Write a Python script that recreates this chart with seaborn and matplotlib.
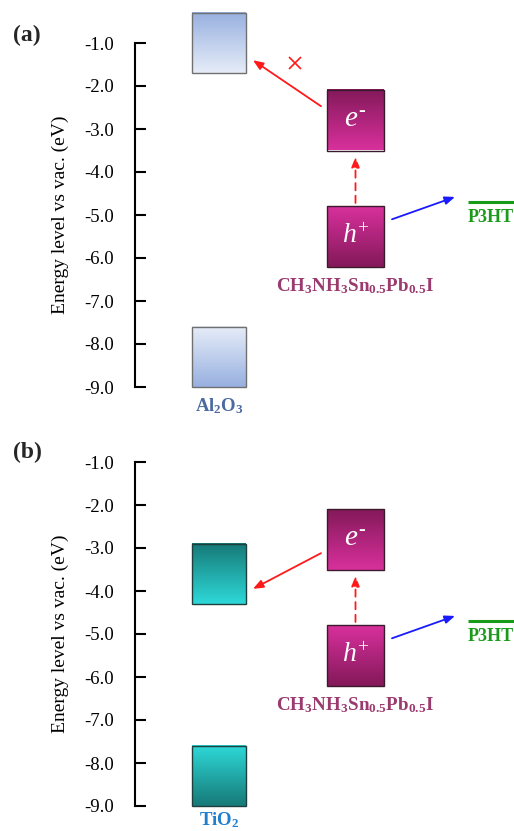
import numpy as np
import matplotlib
matplotlib.use("Agg")
import matplotlib.pyplot as plt
from matplotlib.colors import LinearSegmentedColormap
import seaborn as sns

sns.set_theme(style="white")
plt.rcParams['font.family'] = ['Liberation Serif', 'DejaVu Serif']
plt.rcParams['mathtext.fontset'] = 'custom'
plt.rcParams['mathtext.rm'] = 'Liberation Serif'
plt.rcParams['mathtext.it'] = 'Liberation Serif:italic'
plt.rcParams['mathtext.bf'] = 'Liberation Serif:bold'

# ---------------- data (energies in eV vs vacuum) ----------------
energy_ticks = [-1.0, -2.0, -3.0, -4.0, -5.0, -6.0, -7.0, -8.0, -9.0]
tick_labels = [f"{v:.1f}" for v in energy_ticks]

al2o3_cb = [-0.3, -1.7]
al2o3_vb = [-7.6, -9.0]
tio2_cb = [-2.9, -4.3]
tio2_vb = [-7.6, -9.0]
perov_cb = [-2.1, -3.5]
perov_vb = [-4.8, -6.2]
p3ht_homo = -4.7

# arrows: (start energy, end energy)
arrow_e_a = [-2.47, -1.40]      # e- -> Al2O3 (blocked)
arrow_e_b = [-3.12, -3.95]      # e- -> TiO2
arrow_exc = [-4.72, -3.65]      # excitation (dashed)
arrow_h = [-5.1, -4.58]         # h+ -> P3HT
blocked_mark = -1.47

labels_a = ['(a)', r'$\mathbf{Al_2O_3}$']
labels_b = ['(b)', r'$\mathbf{TiO_2}$']
perov_label = r'$\mathbf{CH_3NH_3Sn_{0.5}Pb_{0.5}I}$'
p3ht_label = 'P3HT'
carrier_labels = [r'$e^{\text{-}}$', r'$h^{+}$']
ylabel = 'Energy level vs vac. (eV)'

# ---------------- layout (x in px-like units from the axis line) -------
W, H = 514, 831
X_OX, W_OX = 57, 54
X_PV, W_PV = 192, 57
X_P3 = 333
YLIM = (-9.55, -0.2)
fig = plt.figure(figsize=(W / 100, H / 100), dpi=100)

al_dark, al_light = '#98B0E0', '#E6EDF8'
ti_dark, ti_light = '#167A78', '#2ED8D8'
pv_dark, pv_light = '#84195A', '#D8309C'


def grad_box(ax, x0, w, e_top, e_bot, dark, light, dark_top, edge):
    cmap = LinearSegmentedColormap.from_list('g', [light, dark] if dark_top else [dark, light])
    g = np.linspace(0, 1, 64).reshape(-1, 1)
    ax.imshow(g, extent=[x0, x0 + w, e_bot, e_top], origin='lower', cmap=cmap,
              aspect='auto', zorder=2, clip_on=False, interpolation='bilinear')
    ax.bar(x0 + w / 2, e_top - e_bot, bottom=e_bot, width=w, fill=False,
           edgecolor=edge, linewidth=1.0, zorder=3, clip_on=False)


def panel(rect, ox_cb, ox_vb, oxdark, oxlight, oxedge, labels, lab_color, lab_y,
          arrow_e, blocked):
    ax = fig.add_axes(rect)
    ax.set_xlim(0, 379)
    ax.set_ylim(*YLIM)
    for s in ['top', 'right', 'bottom']:
        ax.spines[s].set_visible(False)
    ax.spines['left'].set_bounds(-9.0, -1.0)
    ax.spines['left'].set_linewidth(1.5)
    ax.spines['left'].set_color('black')
    ax.set_xticks([])
    ax.set_yticks(energy_ticks)
    ax.set_yticklabels(tick_labels)
    ax.tick_params(axis='y', direction='in', length=8, width=1.5, pad=15,
                   labelsize=13.5, colors='black', left=True)
    ax.set_ylabel(ylabel, fontsize=14, color='black', labelpad=11)
    ax.yaxis.label.set_y((-5.0 - YLIM[0]) / (YLIM[1] - YLIM[0]))
    ax.patch.set_alpha(0)

    grad_box(ax, X_OX, W_OX, ox_cb[0], ox_cb[1], oxdark, oxlight, True, oxedge)
    grad_box(ax, X_OX, W_OX, ox_vb[0], ox_vb[1], oxdark, oxlight, False, oxedge)
    grad_box(ax, X_PV, W_PV, perov_cb[0], perov_cb[1], pv_dark, pv_light, True, '#3a1a2c')
    grad_box(ax, X_PV, W_PV, perov_vb[0], perov_vb[1], pv_dark, pv_light, False, '#3a1a2c')

    cx = X_PV + W_PV / 2
    ax.text(cx, np.mean(perov_cb), carrier_labels[0], color='white', fontsize=21,
            ha='center', va='center', zorder=4)
    ax.text(cx, np.mean(perov_vb), carrier_labels[1], color='white', fontsize=20,
            ha='center', va='center', zorder=4)

    ax.plot([X_P3, 379], [p3ht_homo, p3ht_homo], color='#1a9a1a', lw=2.2,
            solid_capstyle='butt', clip_on=False, zorder=3)
    ax.text(X_P3, -5.05, p3ht_label, color='#1a9a1a', fontsize=13,
            fontweight='bold', ha='left', va='center', clip_on=False)

    ax.text(X_OX + W_OX / 2, lab_y, labels[1], color=lab_color, fontsize=13.5,
            ha='center', va='center', clip_on=False)
    ax.text(cx, -6.65, perov_label, color='#9a3a6e', fontsize=13.7,
            ha='center', va='center')

    ap = dict(arrowstyle='-|>,head_length=0.5,head_width=0.2', lw=1.3,
              shrinkA=0, shrinkB=0)
    ax.annotate('', xy=(118, arrow_e[1]), xytext=(186, arrow_e[0]),
                arrowprops=dict(color='#ff1a1a', **ap), annotation_clip=False)
    ax.annotate('', xy=(cx, arrow_exc[1]), xytext=(cx, arrow_exc[0]),
                arrowprops=dict(color='#ff1a1a', linestyle=(0, (4, 3)), **ap))
    ax.annotate('', xy=(320, arrow_h[1]), xytext=(257, arrow_h[0]),
                arrowprops=dict(color='#1a1aff', **ap))
    if blocked is not None:
        ax.plot([160], [blocked], marker='x', color='#ff1a1a', markersize=9,
                mew=1.2, zorder=4)
    return ax


left = 135 / W
width = 379 / W
hpx = (YLIM[1] - YLIM[0]) * 43
# panel a: -1.0 at y=43 px
top_a = 43 - 0.8 * 43
rect_a = [left, 1 - (top_a + hpx) / H, width, hpx / H]
top_b = 462 - 0.8 * 43
rect_b = [left, 1 - (top_b + hpx) / H, width, hpx / H]

panel(rect_a, al2o3_cb, al2o3_vb, al_dark, al_light, '#707070', labels_a, '#4a6aa0',
      -9.45, arrow_e_a, blocked_mark)
panel(rect_b, tio2_cb, tio2_vb, ti_dark, ti_light, '#1f3f3f', labels_b, '#1f7fcf',
      -9.33, arrow_e_b, None)

fig.text(13 / W, 1 - 35 / H, labels_a[0], fontsize=17, fontweight='bold',
         ha='left', va='center')
fig.text(13 / W, 1 - 452 / H, labels_b[0], fontsize=17, fontweight='bold',
         ha='left', va='center')

fig.savefig('out.png', dpi=100)
